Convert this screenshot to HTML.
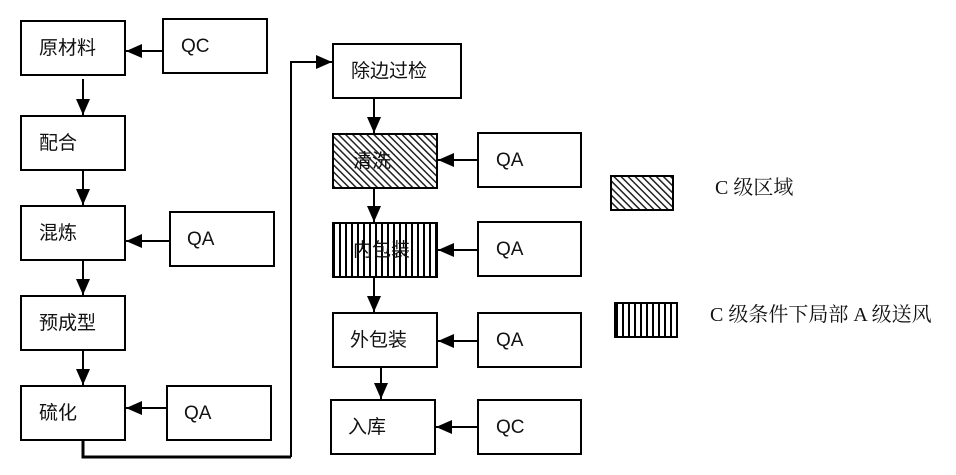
<!DOCTYPE html>
<html><head><meta charset="utf-8"><style>
html,body{margin:0;padding:0;background:#fff;width:956px;height:475px;overflow:hidden}
svg text{font-family:"Liberation Sans","Noto Sans CJK SC",sans-serif;font-size:19px;fill:#111}
.s{font-family:"Liberation Serif","Noto Serif CJK SC",serif;font-size:20px}
</style></head><body>
<svg width="956" height="475" viewBox="0 0 956 475" xmlns="http://www.w3.org/2000/svg">
<defs>
<pattern id="diag" width="5" height="5" patternUnits="userSpaceOnUse" patternTransform="rotate(45)">
<rect width="5" height="5" fill="#fff"/><rect width="5" height="1.5" fill="#222"/>
</pattern>
<pattern id="vert" x="333" width="6" height="10" patternUnits="userSpaceOnUse">
<rect width="6" height="10" fill="#fff"/><rect x="0" width="2" height="10" fill="#000"/>
</pattern>
<pattern id="vert2" x="616" width="6" height="10" patternUnits="userSpaceOnUse">
<rect width="6" height="10" fill="#fff"/><rect x="0" width="2" height="10" fill="#000"/>
</pattern>
<marker id="b" markerWidth="16" markerHeight="14" refX="16" refY="7" orient="auto" markerUnits="userSpaceOnUse">
<path d="M0,0 L16,7 L0,14 z" fill="#000"/></marker>
</defs>
<g fill="#fff" stroke="#000" stroke-width="2">
<rect x="21" y="21" width="104" height="54"/>
<rect x="21" y="116" width="104" height="54"/>
<rect x="21" y="206" width="104" height="54"/>
<rect x="21" y="296" width="104" height="54"/>
<rect x="21" y="386" width="104" height="54"/>
<rect x="163" y="19" width="104" height="54"/>
<rect x="170" y="212" width="104" height="54"/>
<rect x="167" y="386" width="104" height="54"/>
<rect x="333" y="44" width="128" height="54"/>
<rect x="333" y="134" width="104" height="54" fill="url(#diag)"/>
<rect x="333" y="223" width="104" height="54" fill="url(#vert)"/>
<rect x="333" y="313" width="104" height="54"/>
<rect x="331" y="400" width="104" height="54"/>
<rect x="478" y="133" width="103" height="54"/>
<rect x="478" y="222" width="103" height="54"/>
<rect x="478" y="313" width="103" height="54"/>
<rect x="478" y="400" width="103" height="54"/>
<rect x="611" y="176" width="62" height="34" fill="url(#diag)"/>
<rect x="615" y="303" width="62" height="34" fill="url(#vert2)"/>
</g>
<g stroke="#000" stroke-width="2" fill="none">
<line x1="163" y1="51" x2="126" y2="51" marker-end="url(#b)"/>
<line x1="83" y1="79" x2="83" y2="115" marker-end="url(#b)"/>
<line x1="83" y1="170" x2="83" y2="205" marker-end="url(#b)"/>
<line x1="83" y1="260" x2="83" y2="295" marker-end="url(#b)"/>
<line x1="83" y1="350" x2="83" y2="385" marker-end="url(#b)"/>
<line x1="170" y1="241" x2="126" y2="241" marker-end="url(#b)"/>
<line x1="167" y1="408" x2="126" y2="408" marker-end="url(#b)"/>
<path d="M83,440 L83,457 L291,457" stroke-width="3"/>
<path d="M291,457 L291,62 L332,62" marker-end="url(#b)"/>
<line x1="374" y1="98" x2="374" y2="133" marker-end="url(#b)"/>
<line x1="374" y1="188" x2="374" y2="222" marker-end="url(#b)"/>
<line x1="374" y1="277" x2="374" y2="312" marker-end="url(#b)"/>
<line x1="381" y1="367" x2="381" y2="399" marker-end="url(#b)"/>
<line x1="478" y1="160" x2="438" y2="160" marker-end="url(#b)"/>
<line x1="478" y1="250" x2="438" y2="250" marker-end="url(#b)"/>
<line x1="478" y1="341" x2="438" y2="341" marker-end="url(#b)"/>
<line x1="478" y1="427" x2="436" y2="427" marker-end="url(#b)"/>
</g>
<text x="39" y="54">原材料</text>
<text x="39" y="149">配合</text>
<text x="39" y="239">混炼</text>
<text x="39" y="329">预成型</text>
<text x="39" y="419">硫化</text>
<text x="181" y="52">QC</text>
<text x="187" y="245">QA</text>
<text x="184" y="419">QA</text>
<text x="351" y="77">除边过检</text>
<text x="353" y="167">清洗</text>
<text x="353" y="256">内包装</text>
<text x="350" y="346">外包装</text>
<text x="348" y="433">入库</text>
<text x="496" y="166">QA</text>
<text x="496" y="255">QA</text>
<text x="496" y="346">QA</text>
<text x="496" y="433">QC</text>
<text class="s" x="715" y="194">C 级区域</text>
<text class="s" x="710" y="321">C 级条件下局部 A 级送风</text>
</svg>
</body></html>
